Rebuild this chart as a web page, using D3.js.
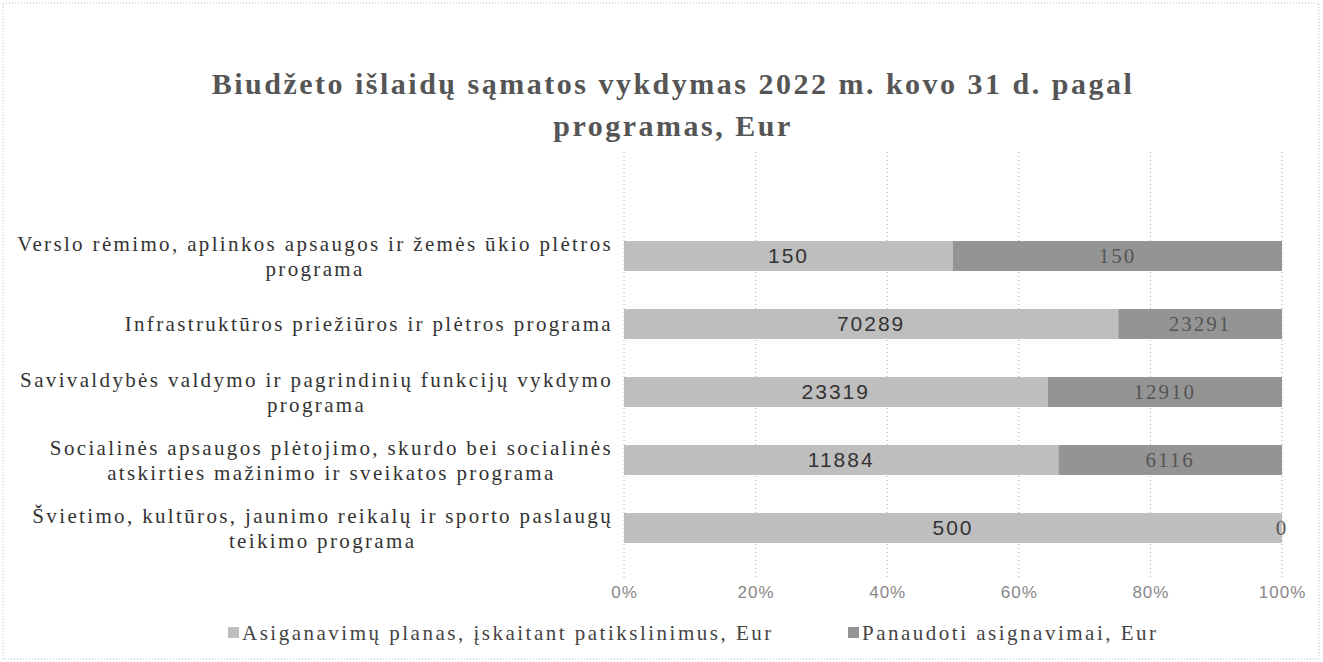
<!DOCTYPE html>
<html>
<head>
<meta charset="utf-8">
<script src="https://cdn.jsdelivr.net/npm/d3@7"></script>
<style>
  body { margin: 0; background: #fff; }
  svg { display: block; }
</style>
</head>
<body>
<div id="chart"></div>
<script>
// chart data
var programs = [
    ["Verslo rėmimo, aplinkos apsaugos ir žemės ūkio plėtros", "programa"],
    ["Infrastruktūros priežiūros ir plėtros programa"],
    ["Savivaldybės valdymo ir pagrindinių funkcijų vykdymo", "programa"],
    ["Socialinės apsaugos plėtojimo, skurdo bei socialinės", "atskirties mažinimo ir sveikatos programa"],
    ["Švietimo, kultūros, jaunimo reikalų ir sporto paslaugų", "teikimo programa"]
];
var planas = [150, 70289, 23319, 11884, 500];
var panaudota = [150, 23291, 12910, 6116, 0];
var seriesNames = ["Asiganavimų planas, įskaitant patikslinimus, Eur", "Panaudoti asignavimai, Eur"];
var tickValues = [0, 0.2, 0.4, 0.6, 0.8, 1];

var W = 1323, H = 662;
var colors = ["#bebebe", "#949494"];

var svg = d3.select("#chart").append("svg")
    .attr("width", W)
    .attr("height", H);

// faint dotted outer frame
svg.append("rect")
    .attr("x", 3).attr("y", 3)
    .attr("width", W - 7).attr("height", H - 6)
    .attr("fill", "none")
    .attr("stroke", "#bbb")
    .attr("stroke-dasharray", "1,2");

// title
var title = svg.append("text")
    .attr("text-anchor", "middle")
    .attr("font-family", "Liberation Serif, serif")
    .attr("font-weight", "bold")
    .attr("font-size", 30)
    .attr("letter-spacing", 2.5)
    .attr("fill", "#555");
title.append("tspan").attr("x", 673).attr("y", 94)
    .text("Biudžeto išlaidų sąmatos vykdymas 2022 m. kovo 31 d. pagal");
title.append("tspan").attr("x", 673).attr("y", 136)
    .text("programas, Eur");

var rows = programs.map(function (p, i) {
    var total = planas[i] + panaudota[i];
    return { idx: i, lines: p, a: planas[i], b: panaudota[i],
             pa: planas[i] / total, pb: panaudota[i] / total };
});

var x = d3.scaleLinear().domain([0, 1]).range([624, 1282]);
var y = d3.scaleBand()
    .domain(rows.map(function (d) { return d.idx; }))
    .range([222, 562])
    .paddingInner(0.56)
    .paddingOuter(0.28);

// vertical dotted gridlines
svg.append("g")
    .selectAll("line")
    .data(tickValues)
    .enter().append("line")
    .attr("x1", function (d) { return x(d); })
    .attr("x2", function (d) { return x(d); })
    .attr("y1", 152)
    .attr("y2", 578)
    .attr("stroke", "#aaa")
    .attr("stroke-dasharray", "1,3");

// x axis labels
var xAxis = svg.append("g")
    .attr("transform", "translate(0,580)")
    .call(d3.axisBottom(x).tickValues(tickValues).tickFormat(d3.format(".0%")).tickSize(0).tickPadding(6));
xAxis.select(".domain").remove();
xAxis.selectAll("text")
    .attr("font-family", "Liberation Sans, sans-serif")
    .attr("font-size", 17)
    .attr("letter-spacing", 1)
    .attr("fill", "#888");

// stacked bars
var groups = svg.append("g").selectAll("g")
    .data(rows)
    .enter().append("g");

groups.append("rect")
    .attr("x", x(0))
    .attr("y", function (d) { return y(d.idx); })
    .attr("width", function (d) { return x(d.pa) - x(0); })
    .attr("height", y.bandwidth())
    .attr("fill", colors[0]);

groups.append("rect")
    .attr("x", function (d) { return x(d.pa); })
    .attr("y", function (d) { return y(d.idx); })
    .attr("width", function (d) { return x(1) - x(d.pa); })
    .attr("height", y.bandwidth())
    .attr("fill", colors[1]);

// value labels
groups.append("text")
    .attr("x", function (d) { return x(d.pa / 2); })
    .attr("y", function (d) { return y(d.idx) + y.bandwidth() / 2; })
    .attr("dy", "0.35em")
    .attr("text-anchor", "middle")
    .attr("font-family", "Liberation Sans, sans-serif")
    .attr("font-size", 21)
    .attr("letter-spacing", 2)
    .attr("fill", "#333")
    .text(function (d) { return d.a; });

groups.append("text")
    .attr("x", function (d) { return x(d.pa + d.pb / 2); })
    .attr("y", function (d) { return y(d.idx) + y.bandwidth() / 2; })
    .attr("dy", "0.35em")
    .attr("text-anchor", "middle")
    .attr("font-family", "Liberation Serif, serif")
    .attr("font-size", 21)
    .attr("letter-spacing", 2)
    .attr("fill", "#555")
    .text(function (d) { return d.b; });

// category labels, wrapped lines centred in a right-aligned block
var labelRight = 613;
var catLabels = svg.append("g").selectAll("text")
    .data(rows)
    .enter().append("text")
    .attr("font-family", "Liberation Serif, serif")
    .attr("font-size", 21)
    .attr("letter-spacing", 2.35)
    .attr("fill", "#333")
    .attr("text-anchor", "middle");

catLabels.each(function (d) {
    var t = d3.select(this);
    var cy = y(d.idx) + y.bandwidth() / 2;
    var n = d.lines.length;
    d.lines.forEach(function (line, k) {
        t.append("tspan")
            .attr("x", 0)
            .attr("y", cy + (k - (n - 1) / 2) * 25)
            .attr("dy", "0.35em")
            .text(line);
    });
    var w = this.getBBox().width;
    t.selectAll("tspan").attr("x", labelRight - w / 2);
});

// legend
var legend = svg.append("g").selectAll("g")
    .data(seriesNames)
    .enter().append("g")
    .attr("transform", function (d, i) { return "translate(" + (i === 0 ? 228 : 848) + ",633)"; });

legend.append("rect")
    .attr("x", 0)
    .attr("y", -6)
    .attr("width", 11)
    .attr("height", 11)
    .attr("fill", function (d, i) { return colors[i]; });

legend.append("text")
    .attr("x", 14)
    .attr("y", 0)
    .attr("dy", "0.35em")
    .attr("font-family", "Liberation Serif, serif")
    .attr("font-size", 21)
    .attr("letter-spacing", 2.5)
    .attr("fill", "#444")
    .text(function (d) { return d; });
</script>
</body>
</html>
